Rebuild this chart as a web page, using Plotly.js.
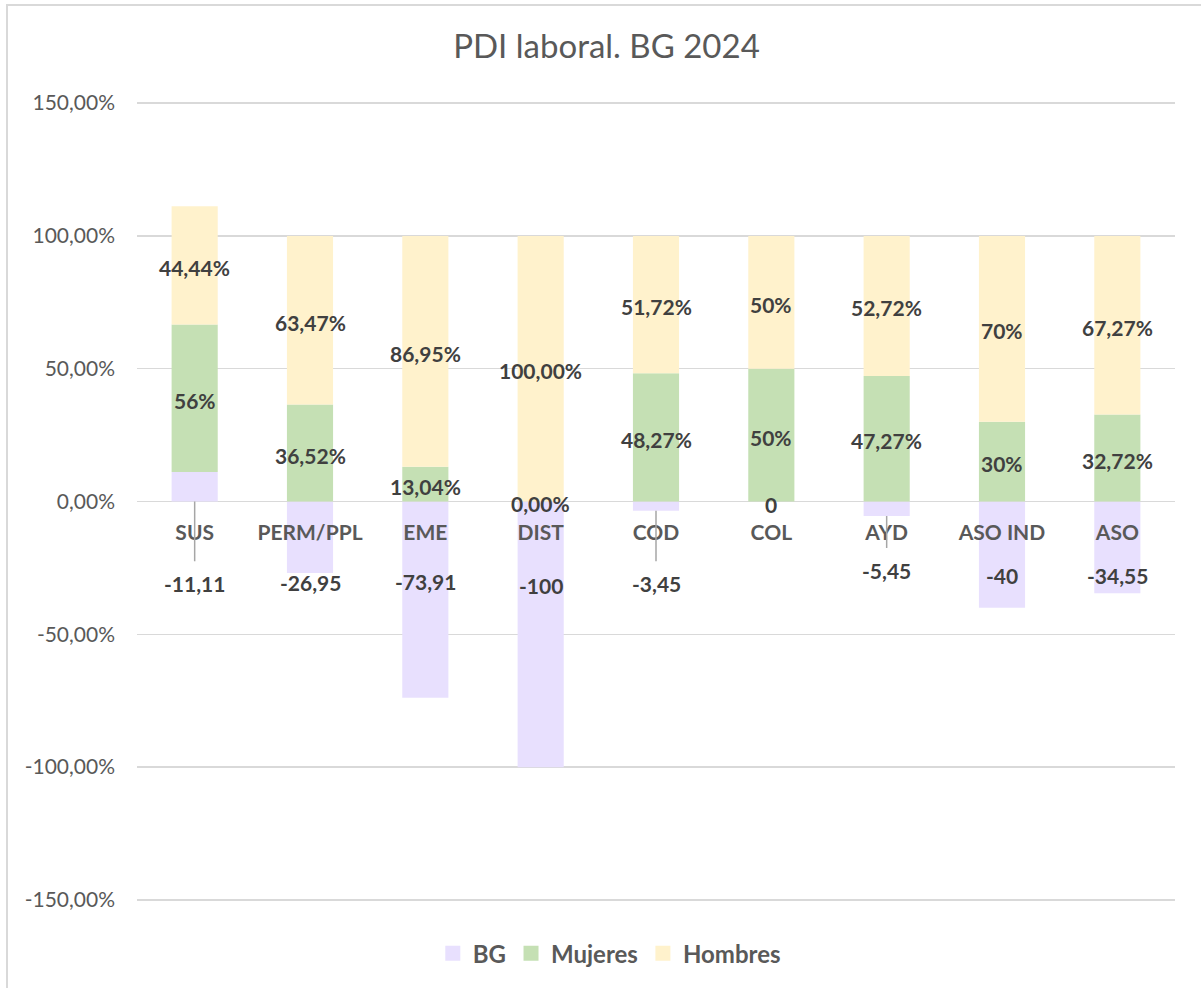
<!DOCTYPE html>
<html>
<head>
<meta charset="utf-8">
<script src="https://cdn.plot.ly/plotly-3.0.1.min.js"></script>
<style>
  html, body { margin: 0; padding: 0; background: #ffffff; overflow: hidden; }
  #frame { position: absolute; left: 6px; top: 4px; width: 1400px; height: 1200px; border: 2px solid #d9d9d9; box-sizing: border-box; z-index: 0; }
  #chart { position: absolute; left: 0; top: 0; width: 1201px; height: 988px; z-index: 1; }
</style>
</head>
<body>
<div id="frame"></div>
<div id="chart"></div>
<script>
// ---- Data ----
const categories = ["SUS", "PERM/PPL", "EME", "DIST", "COD", "COL", "AYD", "ASO IND", "ASO"];
const bg = [11.11, -26.95, -73.91, -100, -3.45, 0, -5.45, -40, -34.55];
const mujeres = [55.56, 36.52, 13.04, 0, 48.27, 50, 47.27, 30, 32.72];
const hombres = [44.44, 63.47, 86.95, 100, 51.72, 50, 52.72, 70, 67.27];
const bgLabels = ["-11,11", "-26,95", "-73,91", "-100", "-3,45", "0", "-5,45", "-40", "-34,55"];
const mujeresLabels = ["56%", "36,52%", "13,04%", "0,00%", "48,27%", "50%", "47,27%", "30%", "32,72%"];
const hombresLabels = ["44,44%", "63,47%", "86,95%", "100,00%", "51,72%", "50%", "52,72%", "70%", "67,27%"];
const seriesNames = ["BG", "Mujeres", "Hombres"];
const yTickVals = [-150, -100, -50, 0, 50, 100, 150];
const yTickText = ["-150,00%", "-100,00%", "-50,00%", "0,00%", "50,00%", "100,00%", "150,00%"];

// ---- Label placement (manually moved BG labels, as in the source chart) ----
const bgLabelPos = [-31, -30.5, -30, -31.5, -31, -1, -26, -28, -28];
const bgLeader = [true, false, false, false, true, false, true, false, false];

const FONT = "Lato, 'Open Sans', sans-serif";
const colors = ["#E8E0FE", "#C5E0B4", "#FFF2CC"];
const seriesValues = [bg, mujeres, hombres];

const traces = seriesValues.map((vals, k) => ({
  type: "bar", name: seriesNames[k], x: categories, y: vals,
  marker: { color: colors[k] }, hoverinfo: "skip", showlegend: false, legendgroup: seriesNames[k]
}));
// legend entries with square keys (as in the source chart)
seriesNames.forEach((n, k) => {
  traces.push({ type: "scatter", mode: "markers", name: n, x: [null], y: [null], legendgroup: n,
    marker: { symbol: "square", size: 15, color: colors[k] }, hoverinfo: "skip", showlegend: true });
});

const labelFont = { family: FONT, size: 21, color: "#404040", weight: "bold" };
const annotations = [];
const shapes = [];
categories.forEach((c, i) => {
  const base = Math.max(bg[i], 0);
  annotations.push({ x: c, y: base + mujeres[i] / 2, xref: "x", yref: "y", text: "<b>" + mujeresLabels[i] + "</b>",
    showarrow: false, yanchor: "middle", yshift: -2, font: labelFont });
  annotations.push({ x: c, y: base + mujeres[i] + hombres[i] / 2, xref: "x", yref: "y", text: "<b>" + hombresLabels[i] + "</b>",
    showarrow: false, yanchor: "middle", yshift: -2, font: labelFont });
  annotations.push({ x: c, y: bgLabelPos[i], xref: "x", yref: "y", text: "<b>" + bgLabels[i] + "</b>",
    showarrow: false, yanchor: "middle", font: labelFont });
  if (bgLeader[i]) {
    shapes.push({ type: "line", xref: "x", yref: "y", x0: c, x1: c, y0: Math.min(bg[i], 0), y1: bgLabelPos[i] + 8.5,
      line: { color: "#a6a6a6", width: 1.5 }, layer: "above" });
  }
});

const layout = {
  width: 1201, height: 988,
  margin: { l: 137, r: 26, t: 102, b: 87 },
  paper_bgcolor: "rgba(0,0,0,0)",
  plot_bgcolor: "rgba(0,0,0,0)",
  barmode: "relative",
  bargap: 0.6,
  font: { family: FONT, color: "#595959" },
  title: { text: "PDI laboral. BG 2024", x: 0.505, xanchor: "center", y: 0.953, yanchor: "middle",
    font: { family: FONT, size: 33, color: "#595959" } },
  xaxis: {
    type: "category",
    anchor: "free", position: 0.5,
    showline: false, showgrid: false, zeroline: false, ticks: "",
    tickfont: { family: FONT, size: 21, color: "#595959", weight: "bold" },
    ticklabelstandoff: 16,
    fixedrange: true
  },
  yaxis: {
    range: [-150.4, 150.4],
    tickvals: yTickVals, ticktext: yTickText,
    showgrid: true, gridcolor: "#d9d9d9", gridwidth: 1.5,
    zeroline: true, zerolinecolor: "#d9d9d9", zerolinewidth: 1.5,
    showline: false, ticks: "",
    tickfont: { family: FONT, size: 21, color: "#595959" },
    ticklabelstandoff: 21,
    fixedrange: true
  },
  showlegend: true,
  legend: {
    orientation: "h", x: 0.455, xanchor: "center", y: -0.066, yanchor: "middle",
    traceorder: "normal",
    font: { family: FONT, size: 24, color: "#595959", weight: "bold" },
    itemclick: false, itemdoubleclick: false
  },
  annotations: annotations,
  shapes: shapes
};

Plotly.newPlot("chart", traces, layout, { displayModeBar: false, staticPlot: true });
</script>
</body>
</html>
